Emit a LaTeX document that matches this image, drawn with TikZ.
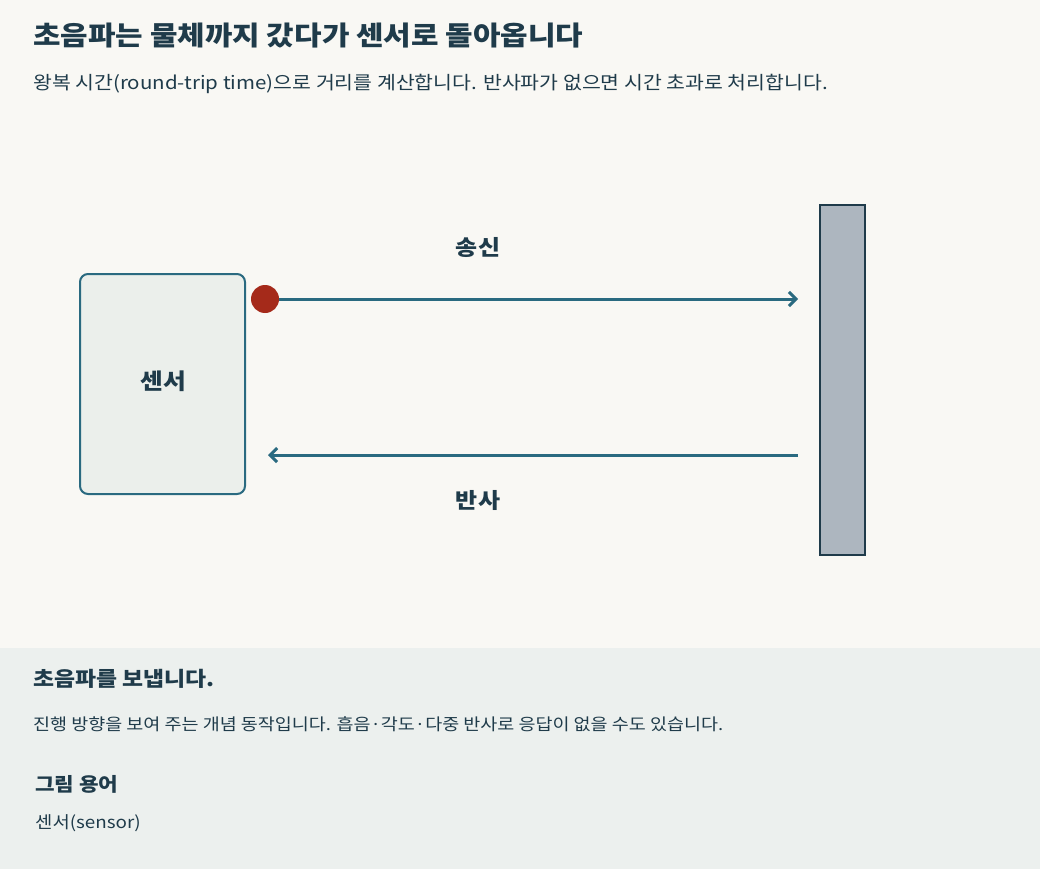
\documentclass[tikz,border=0pt]{standalone}
\usepackage{fontspec}
\setmainfont{Noto Sans CJK KR}[FakeStretch=1.12]
\usetikzlibrary{arrows.meta}
\definecolor{bgc}{HTML}{F9F8F4}
\definecolor{panel}{HTML}{ECF0EE}
\definecolor{ink}{HTML}{1F3B4A}
\definecolor{teal}{HTML}{2A6A80}
\definecolor{boxfill}{HTML}{EBEFEB}
\definecolor{wallfill}{HTML}{ADB6BF}
\definecolor{dotred}{HTML}{A52A1A}
\tikzset{
  txt/.style={anchor=base west, inner sep=0pt, text=ink},
  lbl/.style={inner sep=0pt, text=ink, font=\fontsize{21.4}{24}\selectfont\bfseries},
  wave/.style={draw=teal, line width=3pt, -{Straight Barb[length=7pt,width=14pt,line width=3pt]}},
}
\begin{document}
\begin{tikzpicture}[x=1pt,y=-1pt]
\useasboundingbox (0,0) rectangle (1040,869);
\fill[bgc] (0,0) rectangle (1040,869);
\fill[panel] (0,648) rectangle (1040,869);
% header
\node[txt, font=\fontsize{26.7}{30}\selectfont\bfseries] (title) at (33,46) {초음파는 물체까지 갔다가 센서로 돌아옵니다};
\node[txt, font=\fontsize{18.3}{22}\selectfont] (sub) at (33,90) {왕복 시간(round-trip time)으로 거리를 계산합니다. 반사파가 없으면 시간 초과로 처리합니다.};
% sensor
\node[draw=teal, fill=boxfill, line width=2pt, rounded corners=8pt, minimum width=165pt, minimum height=220pt, inner sep=0pt] (sensor) at (162.5,384) {};
\node[lbl, font=\fontsize{22.1}{26}\selectfont\bfseries] (sensorlbl) at (163,381) {센서};
\node[circle, fill=dotred, minimum size=28pt, inner sep=0pt] (dot) at (265,299) {};
% wall
\node[draw=ink, fill=wallfill, line width=2pt, minimum width=45pt, minimum height=350pt, inner sep=0pt] (wall) at (842.5,380) {};
\coordinate (txend) at (798,299);
\coordinate (rxstart) at (798,455);
\coordinate (rxend) at (268,455);
\draw[wave] (dot.east) -- (txend);
\draw[wave] (rxstart) -- (rxend);
\node[lbl] (tx) at (478,248) {송신};
\node[lbl] (rx) at (478,500) {반사};
% bottom panel
\node[txt, font=\fontsize{20.4}{24}\selectfont\bfseries] (ptitle) at (33,686) {초음파를 보냅니다.};
\node[txt, font=\fontsize{16.5}{20}\selectfont] (pdesc) at (33,730) {진행 방향을 보여 주는 개념 동작입니다. 흡음·각도·다중 반사로 응답이 없을 수도 있습니다.};
\node[txt, font=\fontsize{19}{22}\selectfont\bfseries] (gloss) at (35,791) {그림 용어};
\node[txt, font=\fontsize{16.8}{20}\selectfont] (term) at (35,828) {센서(sensor)};
\end{tikzpicture}
\end{document}
